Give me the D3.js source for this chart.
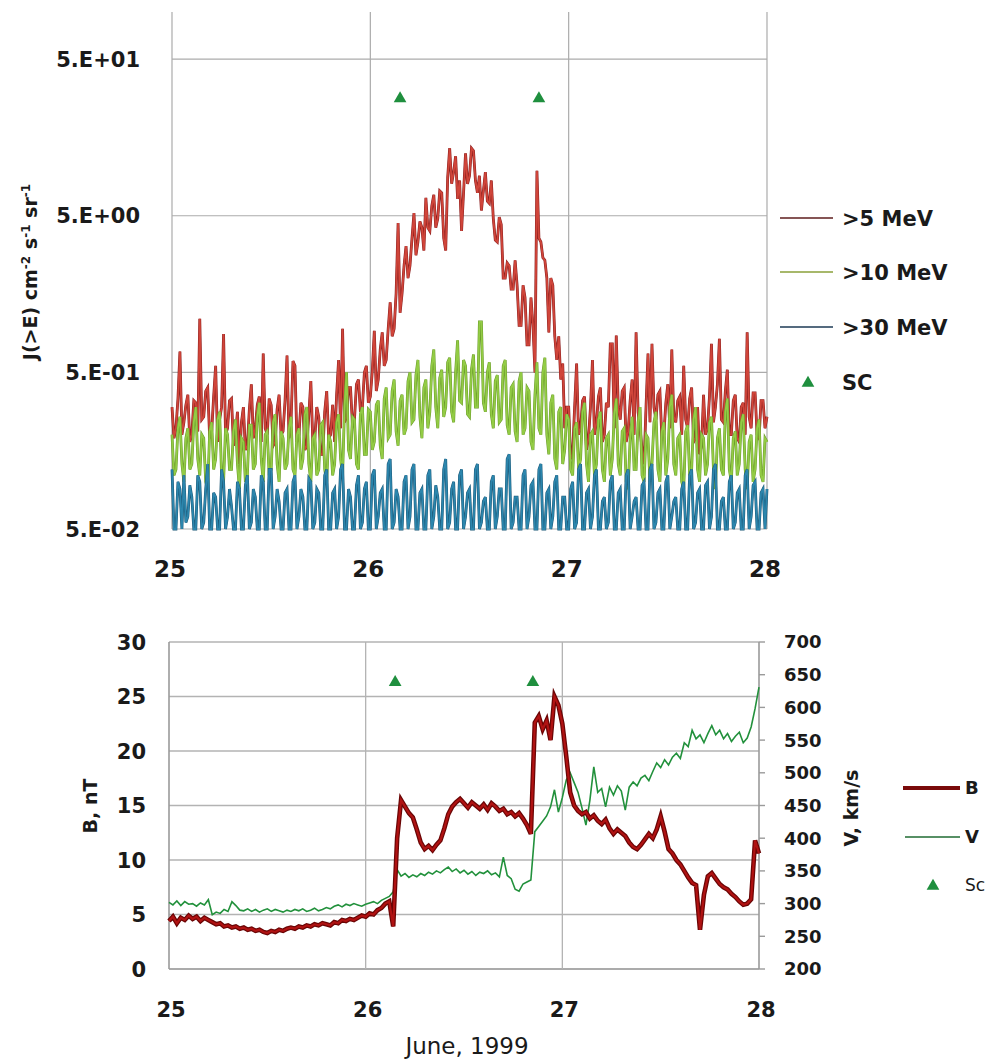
<!DOCTYPE html>
<html>
<head>
<meta charset="utf-8">
<script src="https://cdnjs.cloudflare.com/ajax/libs/d3/7.8.5/d3.min.js"></script>
<style>
body { margin: 0; background: #fff; }
text { font-family: "DejaVu Sans", sans-serif; fill: #1a1a1a; }
</style>
</head>
<body>
<svg id="chart" width="992" height="1062"></svg>
<script>
// sample times: 25 June + i * step
const startDay = 25;
const fluxStep = 0.01;
const fieldStep = 0.02;

const dayTicks = [25, 26, 27, 28];
const fluxTicks = [0.05, 0.5, 5, 50];
const fluxTickLabels = ["5.E-02", "5.E-01", "5.E+00", "5.E+01"];
const bTicks = [0, 5, 10, 15, 20, 25, 30];
const vTicks = [200, 250, 300, 350, 400, 450, 500, 550, 600, 650, 700];

const scDays = [26.15, 26.85];
const scFlux = [28, 28];
const scB = [26.3, 26.3];

// >5 MeV, one row per 0.1 day
const flux5 = [
	0.30, 0.19, 0.22, 0.34, 0.68, 0.20, 0.24, 0.31, 0.36, 0.18,
	0.20, 0.33, 0.32, 0.21, 1.10, 0.25, 0.26, 0.38, 0.40, 0.19,
	0.21, 0.35, 0.55, 0.18, 0.25, 0.30, 0.88, 0.20, 0.22, 0.33,
	0.34, 0.17, 0.20, 0.28, 0.13, 0.24, 0.30, 0.16, 0.17, 0.29,
	0.42, 0.19, 0.22, 0.31, 0.35, 0.18, 0.66, 0.22, 0.20, 0.34,
	0.31, 0.17, 0.18, 0.29, 0.36, 0.20, 0.21, 0.33, 0.64, 0.19,
	0.24, 0.59, 0.55, 0.18, 0.20, 0.32, 0.30, 0.16, 0.17, 0.27,
	0.44, 0.18, 0.19, 0.30, 0.26, 0.15, 0.15, 0.28, 0.38, 0.19,
	0.20, 0.31, 0.18, 0.36, 0.60, 0.22, 0.95, 0.24, 0.26, 0.40,
	0.40, 0.23, 0.25, 0.42, 0.45, 0.28, 0.30, 0.50, 0.55, 0.32,
	0.35, 0.51, 0.92, 0.38, 0.45, 0.70, 0.90, 0.55, 0.60, 0.95,
	1.40, 0.85, 0.95, 1.60, 4.50, 1.20, 1.60, 2.40, 3.20, 2.00,
	2.40, 3.60, 5.20, 2.80, 3.40, 4.60, 4.20, 3.00, 6.50, 4.20,
	4.00, 5.80, 6.80, 4.20, 4.80, 7.20, 7.00, 3.60, 3.00, 8.80,
	13.5, 8.00, 9.50, 12.0, 6.40, 8.40, 4.00, 7.00, 12.5, 8.00,
	9.00, 13.5, 13.0, 8.40, 7.00, 9.00, 5.40, 7.20, 9.50, 6.20,
	6.00, 8.40, 4.80, 3.50, 3.40, 4.90, 4.40, 2.00, 2.00, 2.50,
	2.40, 1.70, 1.70, 2.60, 1.80, 1.00, 1.00, 1.80, 1.50, 0.75,
	0.75, 1.50, 1.00, 0.50, 9.70, 3.60, 3.40, 2.70, 2.60, 2.00,
	0.90, 2.00, 1.80, 0.85, 0.60, 0.85, 0.45, 0.57, 0.22, 0.30,
	0.30, 0.14, 0.15, 0.30, 0.57, 0.20, 0.22, 0.33, 0.35, 0.16,
	0.19, 0.30, 0.60, 0.20, 0.24, 0.35, 0.40, 0.18, 0.20, 0.32,
	0.30, 0.76, 0.76, 0.22, 0.86, 0.30, 0.25, 0.38, 0.40, 0.18,
	0.21, 0.33, 0.45, 0.20, 0.90, 0.28, 0.22, 0.16, 0.13, 0.30,
	0.66, 0.24, 0.76, 0.30, 0.25, 0.36, 0.38, 0.19, 0.20, 0.32,
	0.42, 0.22, 0.70, 0.26, 0.24, 0.33, 0.35, 0.20, 0.55, 0.25,
	0.22, 0.34, 0.40, 0.18, 0.19, 0.30, 0.15, 0.17, 0.36, 0.20,
	0.22, 0.35, 0.76, 0.24, 0.30, 0.42, 0.82, 0.25, 0.24, 0.38,
	0.52, 0.20, 0.20, 0.33, 0.36, 0.19, 0.18, 0.30, 0.32, 0.20,
	0.90, 0.26, 0.22, 0.37, 0.37, 0.20, 0.19, 0.33, 0.33, 0.22,
	0.26
];

// >10 MeV
const flux10 = [
	0.20, 0.11, 0.12, 0.22, 0.26, 0.13, 0.10, 0.19, 0.22, 0.12,
	0.13, 0.24, 0.30, 0.14, 0.11, 0.20, 0.19, 0.10, 0.09, 0.21,
	0.24, 0.12, 0.14, 0.25, 0.28, 0.11, 0.10, 0.22, 0.20, 0.12,
	0.12, 0.21, 0.25, 0.13, 0.09, 0.19, 0.18, 0.10, 0.11, 0.23,
	0.23, 0.12, 0.13, 0.26, 0.32, 0.14, 0.10, 0.20, 0.21, 0.11,
	0.12, 0.24, 0.27, 0.13, 0.10, 0.21, 0.19, 0.12, 0.13, 0.22,
	0.26, 0.12, 0.11, 0.20, 0.22, 0.12, 0.14, 0.27, 0.30, 0.13,
	0.10, 0.19, 0.20, 0.11, 0.12, 0.23, 0.24, 0.12, 0.10, 0.20,
	0.18, 0.11, 0.13, 0.24, 0.27, 0.14, 0.11, 0.30, 0.50, 0.16,
	0.14, 0.26, 0.25, 0.13, 0.12, 0.27, 0.30, 0.15, 0.15, 0.29,
	0.28, 0.16, 0.18, 0.31, 0.33, 0.17, 0.14, 0.34, 0.40, 0.19,
	0.20, 0.38, 0.45, 0.21, 0.17, 0.33, 0.36, 0.20, 0.22, 0.44,
	0.50, 0.24, 0.25, 0.48, 0.60, 0.26, 0.19, 0.40, 0.45, 0.22,
	0.28, 0.55, 0.70, 0.30, 0.22, 0.46, 0.52, 0.26, 0.30, 0.58,
	0.62, 0.28, 0.24, 0.50, 0.80, 0.33, 0.32, 0.60, 0.55, 0.27,
	0.26, 0.52, 0.65, 0.30, 0.30, 1.05, 1.05, 0.32, 0.28, 0.50,
	0.58, 0.27, 0.22, 0.44, 0.48, 0.24, 0.25, 0.55, 0.60, 0.23,
	0.20, 0.40, 0.42, 0.21, 0.18, 0.44, 0.50, 0.20, 0.22, 0.40,
	0.38, 0.18, 0.16, 0.36, 0.58, 0.22, 0.20, 0.50, 0.62, 0.20,
	0.15, 0.32, 0.36, 0.14, 0.12, 0.28, 0.30, 0.13, 0.16, 0.27,
	0.25, 0.12, 0.11, 0.22, 0.24, 0.12, 0.14, 0.28, 0.32, 0.13,
	0.10, 0.20, 0.21, 0.11, 0.13, 0.25, 0.28, 0.12, 0.10, 0.19,
	0.20, 0.11, 0.14, 0.27, 0.34, 0.13, 0.11, 0.21, 0.22, 0.10,
	0.09, 0.19, 0.26, 0.12, 0.12, 0.24, 0.30, 0.11, 0.10, 0.20,
	0.19, 0.10, 0.13, 0.24, 0.28, 0.12, 0.10, 0.21, 0.24, 0.11,
	0.14, 0.30, 0.36, 0.13, 0.11, 0.19, 0.20, 0.10, 0.09, 0.21,
	0.23, 0.11, 0.12, 0.25, 0.30, 0.12, 0.10, 0.20, 0.19, 0.11,
	0.13, 0.24, 0.26, 0.12, 0.09, 0.19, 0.22, 0.12, 0.11, 0.28,
	0.34, 0.12, 0.10, 0.19, 0.21, 0.11, 0.13, 0.24, 0.27, 0.12,
	0.09, 0.18, 0.20, 0.10, 0.12, 0.22, 0.25, 0.11, 0.10, 0.19,
	0.18
];

// >30 MeV
const flux30 = [
	0.120, 0.045, 0.050, 0.100, 0.090, 0.045, 0.110, 0.055, 0.060, 0.095,
	0.080, 0.045, 0.045, 0.110, 0.100, 0.050, 0.055, 0.090, 0.130, 0.045,
	0.050, 0.085, 0.080, 0.045, 0.045, 0.120, 0.100, 0.050, 0.060, 0.090,
	0.070, 0.045, 0.045, 0.100, 0.090, 0.050, 0.050, 0.095, 0.110, 0.045,
	0.055, 0.090, 0.080, 0.045, 0.045, 0.110, 0.100, 0.050, 0.050, 0.120,
	0.120, 0.045, 0.060, 0.090, 0.075, 0.045, 0.045, 0.085, 0.090, 0.050,
	0.050, 0.100, 0.110, 0.045, 0.060, 0.090, 0.080, 0.045, 0.045, 0.105,
	0.100, 0.050, 0.055, 0.090, 0.085, 0.045, 0.045, 0.110, 0.120, 0.050,
	0.050, 0.085, 0.090, 0.045, 0.060, 0.120, 0.130, 0.050, 0.050, 0.090,
	0.080, 0.045, 0.045, 0.095, 0.110, 0.050, 0.055, 0.090, 0.100, 0.045,
	0.050, 0.110, 0.120, 0.050, 0.060, 0.085, 0.090, 0.045, 0.045, 0.130,
	0.140, 0.050, 0.055, 0.090, 0.080, 0.045, 0.050, 0.100, 0.110, 0.045,
	0.060, 0.120, 0.130, 0.050, 0.050, 0.085, 0.090, 0.045, 0.045, 0.110,
	0.120, 0.050, 0.060, 0.095, 0.080, 0.045, 0.050, 0.120, 0.140, 0.050,
	0.055, 0.090, 0.100, 0.045, 0.045, 0.110, 0.120, 0.050, 0.060, 0.085,
	0.090, 0.045, 0.050, 0.120, 0.130, 0.050, 0.055, 0.075, 0.080, 0.045,
	0.045, 0.100, 0.110, 0.050, 0.060, 0.090, 0.090, 0.045, 0.050, 0.140,
	0.150, 0.050, 0.055, 0.080, 0.080, 0.045, 0.045, 0.110, 0.120, 0.050,
	0.060, 0.095, 0.100, 0.045, 0.050, 0.120, 0.130, 0.050, 0.045, 0.085,
	0.090, 0.050, 0.060, 0.100, 0.110, 0.045, 0.050, 0.080, 0.080, 0.045,
	0.045, 0.090, 0.100, 0.050, 0.055, 0.120, 0.130, 0.045, 0.050, 0.085,
	0.090, 0.045, 0.060, 0.110, 0.120, 0.050, 0.045, 0.075, 0.080, 0.050,
	0.055, 0.100, 0.110, 0.045, 0.050, 0.085, 0.090, 0.045, 0.045, 0.110,
	0.120, 0.050, 0.060, 0.075, 0.080, 0.045, 0.050, 0.095, 0.100, 0.045,
	0.045, 0.120, 0.130, 0.050, 0.055, 0.085, 0.090, 0.045, 0.050, 0.100,
	0.110, 0.050, 0.060, 0.075, 0.080, 0.045, 0.045, 0.090, 0.100, 0.050,
	0.050, 0.110, 0.120, 0.050, 0.055, 0.085, 0.090, 0.045, 0.045, 0.095,
	0.100, 0.050, 0.060, 0.120, 0.130, 0.050, 0.050, 0.075, 0.080, 0.045,
	0.045, 0.100, 0.110, 0.050, 0.055, 0.085, 0.090, 0.045, 0.050, 0.110,
	0.120, 0.050, 0.060, 0.095, 0.100, 0.045, 0.050, 0.085, 0.090, 0.045,
	0.090
];

// B, nT, one row per 0.2 day
const bField = [
	4.4, 4.8, 4.2, 4.7, 4.5, 4.9, 4.6, 4.8, 4.4, 4.7, 4.5,
	4.3, 4.1, 4.2, 3.9, 4.0, 3.8, 3.9, 3.7, 3.8, 3.6,
	3.7, 3.5, 3.6, 3.4, 3.3, 3.5, 3.4, 3.6, 3.5, 3.7,
	3.8, 3.7, 3.9, 3.8, 4.0, 3.9, 4.1, 4.0, 4.2, 4.1,
	4.0, 4.3, 4.2, 4.5, 4.4, 4.6, 4.5, 4.7, 4.9, 4.8,
	5.1, 5.0, 5.4, 5.6, 6.0, 6.2, 3.9, 12.0, 15.5, 14.9,
	14.3, 13.9, 12.8, 11.6, 11.0, 11.3, 10.9, 11.4, 11.8, 12.9,
	14.2, 14.9, 15.3, 15.6, 15.2, 14.8, 15.3, 15.0, 14.7, 15.1,
	14.6, 15.2, 14.9, 14.5, 14.7, 14.2, 14.4, 14.0, 14.3, 13.8,
	13.2, 12.4, 22.6, 23.2, 22.0, 22.8, 21.0, 25.0, 24.2, 22.5,
	19.5, 16.2, 15.0, 14.5, 14.2, 14.4, 13.8, 14.1, 13.6, 13.3,
	13.7, 12.9, 12.4, 12.8, 12.5, 12.2, 11.6, 11.2, 11.0, 11.4,
	11.9, 12.4, 12.0, 12.8, 14.0, 12.6, 11.0, 10.6, 10.0, 9.6,
	9.0, 8.4, 7.9, 7.7, 3.6, 6.8, 8.5, 8.8, 8.3, 7.8,
	7.5, 7.3, 6.9, 6.6, 6.2, 5.9, 6.0, 6.4, 11.8, 10.6
];

// V, km/s
const speed = [
	302, 298, 304, 297, 303, 299, 300, 296, 301, 298, 306,
	283, 287, 285, 291, 288, 303, 297, 290, 289, 292,
	288, 291, 287, 290, 292, 288, 291, 289, 287, 290,
	288, 291, 289, 292, 288, 290, 293, 289, 291, 294,
	292, 296, 298, 295, 299, 297, 300, 298, 296, 299,
	301, 303, 300, 305, 308, 311, 318, 352, 342, 346,
	340, 344, 341, 346, 343, 348, 345, 350, 347, 352,
	356, 349, 353, 347, 351, 345, 349, 343, 348, 346,
	350, 344, 347, 341, 371, 343, 338, 322, 319, 330,
	333, 336, 410, 418, 426, 434, 448, 474, 440, 462,
	489, 500, 485, 470, 446, 420, 458, 509, 470, 476,
	448, 478, 466, 480, 472, 443, 478, 486, 480, 492,
	496, 488, 502, 515, 508, 520, 512, 524, 530, 522,
	546, 540, 565, 552, 558, 546, 560, 572, 558, 565,
	552, 560, 548, 556, 562, 546, 553, 570, 598, 631
];

var svg;
var xTop, yFlux, xBot, yB, yV;

document.addEventListener("DOMContentLoaded", function(){
	svg = d3.select("#chart");

	xTop = d3.scaleLinear().domain([25, 28]).range([172, 767]);
	yFlux = d3.scaleLog().domain([0.05, 100]).range([529, 12]).clamp(true);

	xBot = d3.scaleLinear().domain([25, 28]).range([169, 759]);
	yB = d3.scaleLinear().domain([0, 30]).range([969, 642]);
	yV = d3.scaleLinear().domain([200, 700]).range([969, 642]);

	drawTopPanel();
	drawBottomPanel();
});

function triangle(g, xs, ys, sx, sy){
	g.selectAll(".sc")
		.data(xs)
		.enter()
		.append("path")
			.attr("class", "sc")
			.attr("d", d3.symbol().type(d3.symbolTriangle).size(70))
			.attr("fill", "#1f8f3e")
			.attr("transform", (d, i) => "translate(" + sx(d) + "," + sy(ys[i]) + ")");
}

function drawTopPanel(){
	var g = svg.append("g").attr("class", "top");

	//grid
	g.selectAll(".vgrid")
		.data(dayTicks)
		.enter()
		.append("line")
			.attr("x1", d => xTop(d)).attr("x2", d => xTop(d))
			.attr("y1", yFlux(100)).attr("y2", yFlux(0.05))
			.attr("stroke", "#ababab").attr("stroke-width", 1.2);
	g.selectAll(".hgrid")
		.data(fluxTicks)
		.enter()
		.append("line")
			.attr("x1", xTop(25)).attr("x2", xTop(28))
			.attr("y1", d => yFlux(d)).attr("y2", d => yFlux(d))
			.attr("stroke", "#ababab").attr("stroke-width", 1.2);

	//series, >5 first so >30 ends on top
	var series = [
		{data: flux5, edge: "#8a1f1f", color: "#d0453a"},
		{data: flux10, edge: "#6a9a2a", color: "#93cc45"},
		{data: flux30, edge: "#1c5877", color: "#2c86ad"}
	];
	var line = d3.line()
		.x((d, i) => xTop(startDay + i * fluxStep))
		.y(d => yFlux(d));
	series.forEach(function(s){
		g.append("path")
			.attr("fill", "none")
			.attr("stroke", s.edge)
			.attr("stroke-width", 2.8)
			.attr("d", line(s.data));
		g.append("path")
			.attr("fill", "none")
			.attr("stroke", s.color)
			.attr("stroke-width", 1.8)
			.attr("d", line(s.data));
	});

	triangle(g, scDays, scFlux, xTop, yFlux);

	//y tick labels
	g.selectAll(".ylab")
		.data(fluxTicks)
		.enter()
		.append("text")
			.attr("x", 140)
			.attr("y", d => yFlux(d))
			.attr("dy", "0.36em")
			.attr("text-anchor", "end")
			.style("font-size", "21px")
			.style("font-weight", "bold")
			.text((d, i) => fluxTickLabels[i]);

	//x tick labels
	g.selectAll(".xlab")
		.data(dayTicks)
		.enter()
		.append("text")
			.attr("x", d => xTop(d) - 2)
			.attr("y", 577)
			.attr("text-anchor", "middle")
			.style("font-size", "23px")
			.style("font-weight", "bold")
			.text(d => d);

	//y axis title
	var title = g.append("text")
		.attr("transform", "translate(37,272) rotate(-90)")
		.attr("text-anchor", "middle")
		.style("font-size", "19px")
		.style("font-weight", "bold");
	title.append("tspan").text("J(>E) cm");
	title.append("tspan").attr("dy", -7).style("font-size", "12px").text("-2");
	title.append("tspan").attr("dy", 7).text(" s");
	title.append("tspan").attr("dy", -7).style("font-size", "12px").text("-1");
	title.append("tspan").attr("dy", 7).text(" sr");
	title.append("tspan").attr("dy", -7).style("font-size", "12px").text("-1");

	//legend
	var legend = [
		{label: ">5 MeV", color: "#5e1c1c", y: 218},
		{label: ">10 MeV", color: "#8aa03a", y: 272},
		{label: ">30 MeV", color: "#1d3a55", y: 327}
	];
	var lg = g.append("g").attr("class", "legend");
	lg.selectAll("line")
		.data(legend)
		.enter()
		.append("line")
			.attr("x1", 780).attr("x2", 833)
			.attr("y1", d => d.y).attr("y2", d => d.y)
			.attr("stroke", d => d.color).attr("stroke-width", 1.6);
	lg.selectAll("text")
		.data(legend)
		.enter()
		.append("text")
			.attr("x", 842)
			.attr("y", d => d.y)
			.attr("dy", "0.36em")
			.style("font-size", "21px")
			.style("font-weight", "bold")
			.text(d => d.label);
	lg.append("path")
		.attr("d", d3.symbol().type(d3.symbolTriangle).size(70))
		.attr("fill", "#1f8f3e")
		.attr("transform", "translate(808,383)");
	lg.append("text")
		.attr("x", 842).attr("y", 382).attr("dy", "0.36em")
		.style("font-size", "21px")
		.style("font-weight", "bold")
		.text("SC");
}

function drawBottomPanel(){
	var g = svg.append("g").attr("class", "bottom");

	//grid
	g.selectAll(".hgrid")
		.data(bTicks)
		.enter()
		.append("line")
			.attr("x1", xBot(25)).attr("x2", xBot(28))
			.attr("y1", d => yB(d)).attr("y2", d => yB(d))
			.attr("stroke", d => d == 0 ? "#8f8f8f" : "#b3b3b3")
			.attr("stroke-width", d => d == 0 ? 1.6 : 1.3);
	g.selectAll(".vgrid")
		.data(dayTicks)
		.enter()
		.append("line")
			.attr("x1", d => xBot(d)).attr("x2", d => xBot(d))
			.attr("y1", yB(30)).attr("y2", yB(0))
			.attr("stroke", d => (d == 25 || d == 28) ? "#9a9a9a" : "#b3b3b3")
			.attr("stroke-width", d => (d == 25 || d == 28) ? 1.6 : 1.3);

	//right axis ticks
	g.selectAll(".vtick")
		.data(vTicks)
		.enter()
		.append("line")
			.attr("x1", xBot(28)).attr("x2", xBot(28) + 6)
			.attr("y1", d => yV(d)).attr("y2", d => yV(d))
			.attr("stroke", "#9a9a9a").attr("stroke-width", 1.4);

	var t = (d, i) => xBot(startDay + i * fieldStep);

	g.append("path")
		.attr("fill", "none")
		.attr("stroke", "#22913c")
		.attr("stroke-width", 1.6)
		.attr("d", d3.line().x(t).y(d => yV(d))(speed));

	g.append("path")
		.attr("fill", "none")
		.attr("stroke", "#6a0505")
		.attr("stroke-width", 4.6)
		.attr("d", d3.line().x(t).y(d => yB(d))(bField));
	g.append("path")
		.attr("fill", "none")
		.attr("stroke", "#b01212")
		.attr("stroke-width", 2.2)
		.attr("d", d3.line().x(t).y(d => yB(d))(bField));

	triangle(g, scDays, scB, xBot, yB);

	//left tick labels
	g.selectAll(".blab")
		.data(bTicks)
		.enter()
		.append("text")
			.attr("x", 146)
			.attr("y", d => yB(d))
			.attr("dy", "0.36em")
			.attr("text-anchor", "end")
			.style("font-size", "21px")
			.style("font-weight", "bold")
			.text(d => d);

	//right tick labels
	g.selectAll(".vlab")
		.data(vTicks)
		.enter()
		.append("text")
			.attr("x", 784)
			.attr("y", d => yV(d))
			.attr("dy", "0.36em")
			.style("font-size", "18px")
			.style("font-weight", "bold")
			.text(d => d);

	//x tick labels
	g.selectAll(".xlab")
		.data(dayTicks)
		.enter()
		.append("text")
			.attr("x", d => xBot(d) + 2)
			.attr("y", 1017)
			.attr("text-anchor", "middle")
			.style("font-size", "21px")
			.style("font-weight", "bold")
			.text(d => d);

	g.append("text")
		.attr("x", 467).attr("y", 1054)
		.attr("text-anchor", "middle")
		.style("font-size", "23px")
		.text("June, 1999");

	g.append("text")
		.attr("transform", "translate(97,806) rotate(-90)")
		.attr("text-anchor", "middle")
		.style("font-size", "19px")
		.style("font-weight", "bold")
		.text("B, nT");

	g.append("text")
		.attr("transform", "translate(858,808) rotate(-90)")
		.attr("text-anchor", "middle")
		.style("font-size", "19px")
		.style("font-weight", "bold")
		.text("V, km/s");

	//legend
	var lg = g.append("g").attr("class", "legend");
	lg.append("line")
		.attr("x1", 903).attr("x2", 960).attr("y1", 788).attr("y2", 788)
		.attr("stroke", "#7a0a0a").attr("stroke-width", 4);
	lg.append("text")
		.attr("x", 965).attr("y", 788).attr("dy", "0.36em")
		.style("font-size", "18px").style("font-weight", "bold")
		.text("B");
	lg.append("line")
		.attr("x1", 905).attr("x2", 960).attr("y1", 837).attr("y2", 837)
		.attr("stroke", "#1f6b32").attr("stroke-width", 1.6);
	lg.append("text")
		.attr("x", 965).attr("y", 837).attr("dy", "0.36em")
		.style("font-size", "18px").style("font-weight", "bold")
		.text("V");
	lg.append("path")
		.attr("d", d3.symbol().type(d3.symbolTriangle).size(70))
		.attr("fill", "#1f8f3e")
		.attr("transform", "translate(933,886)");
	lg.append("text")
		.attr("x", 965).attr("y", 885).attr("dy", "0.36em")
		.style("font-size", "17px")
		.text("Sc");
}
</script>
</body>
</html>
